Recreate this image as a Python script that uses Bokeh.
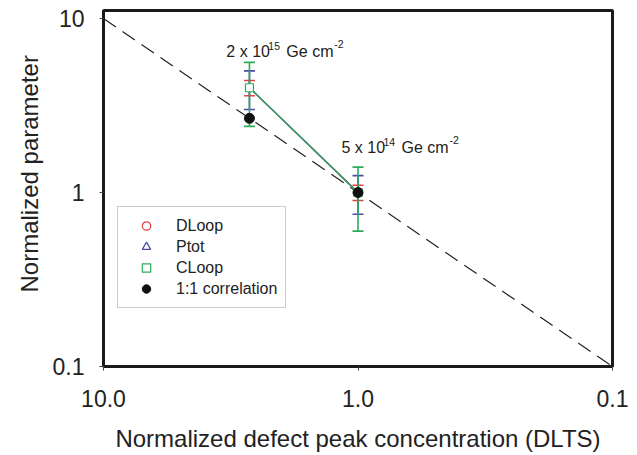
from bokeh.plotting import figure
from bokeh.models import (Range1d, FixedTicker, CustomJSTickFormatter, Whisker, TeeHead,
                          ColumnDataSource, Legend, LegendItem, Label, Title)
from bokeh.embed import file_html
from bokeh.resources import INLINE

FONT = "Liberation Sans"

# ---- data ----
x_conc = [2.67, 1.0]          # normalized defect peak concentration (DLTS)
dloop = [4.0, 1.0]
dloop_err = [0.4, 0.1]
ptot = [4.0, 1.0]
ptot_err = [1.0, 0.25]
cloop = [4.0, 1.0]
cloop_err = [1.6, 0.4]
corr = [2.67, 1.0]
ref_line_x = [10.0, 0.1]
ref_line_y = [10.0, 0.1]
x_ticks = [10.0, 1.0, 0.1]
y_ticks = [0.1, 1.0, 10.0]
series_names = ["DLoop", "Ptot", "CLoop", "1:1 correlation"]
dose_main = ["2 x 10", "5 x 10"]
dose_exp = ["15", "14"]

RED = "#e8413c"
BLUE = "#4a4aa8"
GREEN = "#2eaa5c"
TXT = "#222222"

p = figure(width=630, height=455, x_axis_type="log", y_axis_type="log",
           x_range=Range1d(10, 0.1), y_range=Range1d(0.1, 11.12),
           output_backend="svg", toolbar_location=None,
           min_border_left=103, min_border_right=18, min_border_top=10, min_border_bottom=89)

p.xgrid.visible = False
p.ygrid.visible = False
p.outline_line_color = "#1a1a1a"
p.outline_line_width = 3
p.background_fill_color = "white"

for ax in (p.xaxis[0], p.yaxis[0]):
    ax.axis_line_color = None
    ax.major_tick_out = 4
    ax.major_tick_in = 0
    ax.minor_tick_out = 0
    ax.minor_tick_in = 0
    ax.major_tick_line_color = "#444444"
    ax.major_label_text_font = FONT
    ax.major_label_text_font_size = "23px"
    ax.major_label_text_color = TXT
    ax.major_label_standoff = 15
p.xaxis.major_label_standoff = 19

p.xaxis.ticker = FixedTicker(ticks=x_ticks, minor_ticks=[])
p.yaxis.ticker = FixedTicker(ticks=y_ticks, minor_ticks=[])
p.xaxis.formatter = CustomJSTickFormatter(code="return tick.toFixed(1);")
p.yaxis.formatter = CustomJSTickFormatter(code="return tick < 1 ? tick.toFixed(1) : tick.toFixed(0);")

p.xaxis.axis_label = "Normalized defect peak concentration (DLTS)"
p.xaxis.axis_label_text_font = FONT
p.xaxis.axis_label_text_font_size = "24px"
p.xaxis.axis_label_text_font_style = "normal"
p.xaxis.axis_label_text_color = TXT
p.xaxis.axis_label_standoff = 15

# y-axis title, slightly above the frame centre as in the reference
ytitle = Title(text="Normalized parameter", align="left", offset=74, standoff=14,
               text_font=FONT, text_font_size="24px", text_font_style="normal",
               text_color=TXT)
p.add_layout(ytitle, "left")

# 1:1 reference line
p.line(ref_line_x, ref_line_y, line_color="#222222", line_width=1.2, line_dash="15 8")

# error bars
def band(vals, errs):
    return [v + e for v, e in zip(vals, errs)], [v - e for v, e in zip(vals, errs)]

for vals, errs, col in ((dloop, dloop_err, RED), (ptot, ptot_err, BLUE), (cloop, cloop_err, GREEN)):
    up, lo = band(vals, errs)
    src = ColumnDataSource(dict(x=x_conc, up=up, lo=lo))
    w = Whisker(base="x", upper="up", lower="lo", source=src, dimension="height",
                line_color=col, line_width=1.6,
                upper_head=TeeHead(size=11, line_color=col, line_width=1.6),
                lower_head=TeeHead(size=11, line_color=col, line_width=1.6))
    p.add_layout(w)

# connecting lines
p.line(x_conc, dloop, line_color=RED, line_width=1.4)
p.line(x_conc, ptot, line_color=BLUE, line_width=1.4)
p.line(x_conc, cloop, line_color=GREEN, line_width=1.4)

# markers
r_dl = p.scatter(x_conc, dloop, marker="circle", size=6, line_color=RED, fill_color="white", line_width=1.2)
r_pt = p.scatter(x_conc, ptot, marker="triangle", size=6, line_color=BLUE, fill_color="white", line_width=1.2)
r_cl = p.scatter(x_conc, cloop, marker="square", size=8, line_color=GREEN, fill_color="white", line_width=1.2)
r_co = p.scatter(x_conc, corr, marker="circle", size=10, line_color="#111111", fill_color="#111111")

legend = Legend(items=[LegendItem(label=n, renderers=[r]) for n, r in
                       zip(series_names, [r_dl, r_pt, r_cl, r_co])],
                location=(14, 58), margin=0, padding=8, spacing=0,
                glyph_width=40, glyph_height=21, label_height=21, label_standoff=10,
                label_text_font=FONT, label_text_font_size="16px", label_text_color=TXT,
                border_line_color="#9a9a9a", border_line_width=1.5,
                background_fill_color="white", background_fill_alpha=1)
p.add_layout(legend)

# dose annotations
anchors = [(3.29, 6.46), (1.161, 1.814)]
for (ax_, ay_), main, ex in zip(anchors, dose_main, dose_exp):
    common = dict(x=ax_, y=ay_, text_baseline="alphabetic", text_align="left",
                  text_font=FONT, text_color=TXT)
    p.add_layout(Label(text=main, x_offset=0, text_font_size="16px", **common))
    p.add_layout(Label(text=ex, x_offset=42, y_offset=6, text_font_size="10.5px", **common))
    p.add_layout(Label(text="Ge cm", x_offset=60, text_font_size="16px", **common))
    p.add_layout(Label(text="-2", x_offset=108, y_offset=8, text_font_size="10.5px", **common))

open("out.html", "w").write(file_html(p, INLINE))
